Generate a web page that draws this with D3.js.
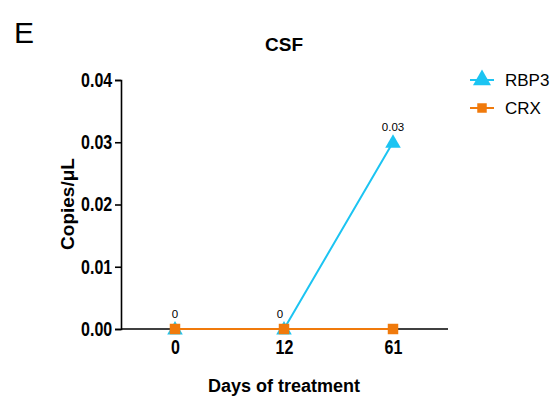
<!DOCTYPE html>
<html>
<head>
<meta charset="utf-8">
<script src="https://cdn.jsdelivr.net/npm/d3@7"></script>
<style>
  body { margin: 0; background: #fff; }
  svg { font-family: "Liberation Sans", Arial, sans-serif; }
</style>
</head>
<body>
<div id="chart"></div>
<script>
var w = 555;
var h = 396;

var days = ['0', '12', '61'];
var rbp3 = [0, 0, 0.03];
var crx = [0, 0, 0];
var yTicks = [0, 0.01, 0.02, 0.03, 0.04];

var series = [
    {name: 'RBP3', values: rbp3, color: '#1cc4f2', shape: d3.symbolTriangle},
    {name: 'CRX', values: crx, color: '#f07a0c', shape: d3.symbolSquare}
];

var svg = d3.select('#chart')
    .append('svg')
    .attr('width', w)
    .attr('height', h);

var x = d3.scalePoint().domain(days).range([175, 393]);
var y = d3.scaleLinear().domain([0, 0.04]).range([329, 80]);

// panel letter and title
svg.append('text').attr('x', 14).attr('y', 43)
    .attr('font-size', 30).text('E');
svg.append('text').attr('x', 284).attr('y', 51)
    .attr('text-anchor', 'middle').attr('font-size', 19)
    .attr('font-weight', 'bold').text('CSF');

// axes - tick labels are squeezed a bit to look like a narrow face
var yAxis = svg.append('g')
    .attr('transform', 'translate(121,0)')
    .call(d3.axisLeft(y).tickValues(yTicks).tickFormat(d3.format('.2f')).tickSizeOuter(0).tickSize(6).tickPadding(5));
yAxis.selectAll('text')
    .attr('font-size', 20).attr('font-weight', 'bold').attr('fill', '#000')
    .attr('transform', 'scale(0.8,1)');
yAxis.selectAll('line, path').attr('stroke', '#000').attr('stroke-width', 1.6);

var xAxis = svg.append('g')
    .attr('transform', 'translate(0,329)')
    .call(d3.axisBottom(x).tickSize(0).tickPadding(11));
xAxis.select('.domain').attr('d', 'M121,0H448');
xAxis.selectAll('text')
    .attr('font-size', 20).attr('font-weight', 'bold').attr('fill', '#000')
    .attr('transform', 'scale(0.8,1)');
xAxis.selectAll('line, path').attr('stroke', '#000').attr('stroke-width', 1.6);

// axis titles
svg.append('text')
    .attr('transform', 'translate(74,204) rotate(-90)')
    .attr('text-anchor', 'middle').attr('font-size', 19).attr('font-weight', 'bold')
    .text('Copies/\u03bcL');
svg.append('text').attr('x', 284).attr('y', 392)
    .attr('text-anchor', 'middle').attr('font-size', 18).attr('font-weight', 'bold')
    .text('Days of treatment');

var line = d3.line()
    .x(function(d, i) { return x(days[i]); })
    .y(function(d) { return y(d); });

series.forEach(function(s) {
    svg.append('path')
        .datum(s.values)
        .attr('d', line)
        .attr('fill', 'none')
        .attr('stroke', s.color)
        .attr('stroke-width', 2);

    svg.selectAll('.pt-' + s.name)
        .data(s.values)
        .enter()
        .append('path')
        .attr('transform', function(d, i) {
            return 'translate(' + x(days[i]) + ',' + (y(d) + (s.name == 'RBP3' ? 1 : 0)) + ')';
        })
        .attr('d', d3.symbol().type(s.shape).size(s.name == 'RBP3' ? 105 : 110))
        .attr('fill', s.color);
});

// value labels
svg.selectAll('.vlab')
    .data(rbp3)
    .enter()
    .append('text')
    .attr('x', function(d, i) { return x(days[i]) + (i == 1 ? -4 : 0); })
    .attr('y', function(d) { return y(d) - 11; })
    .attr('text-anchor', 'middle')
    .attr('font-size', 11.5)
    .text(function(d) { return d == 0 ? '0' : d3.format('.2f')(d); });

// legend
var legend = svg.selectAll('.leg')
    .data(series)
    .enter()
    .append('g')
    .attr('transform', function(d, i) { return 'translate(482,' + (80 + i * 28) + ')'; });
legend.append('line')
    .attr('x1', -12).attr('x2', 12)
    .attr('stroke', function(d) { return d.color; })
    .attr('stroke-width', 2);
legend.append('path')
    .attr('d', function(d) { return d3.symbol().type(d.shape).size(d.name == 'RBP3' ? 140 : 90)(); })
    .attr('fill', function(d) { return d.color; });
legend.append('text')
    .attr('x', 23).attr('y', 6)
    .attr('font-size', 17)
    .text(function(d) { return d.name; });
</script>
</body>
</html>
